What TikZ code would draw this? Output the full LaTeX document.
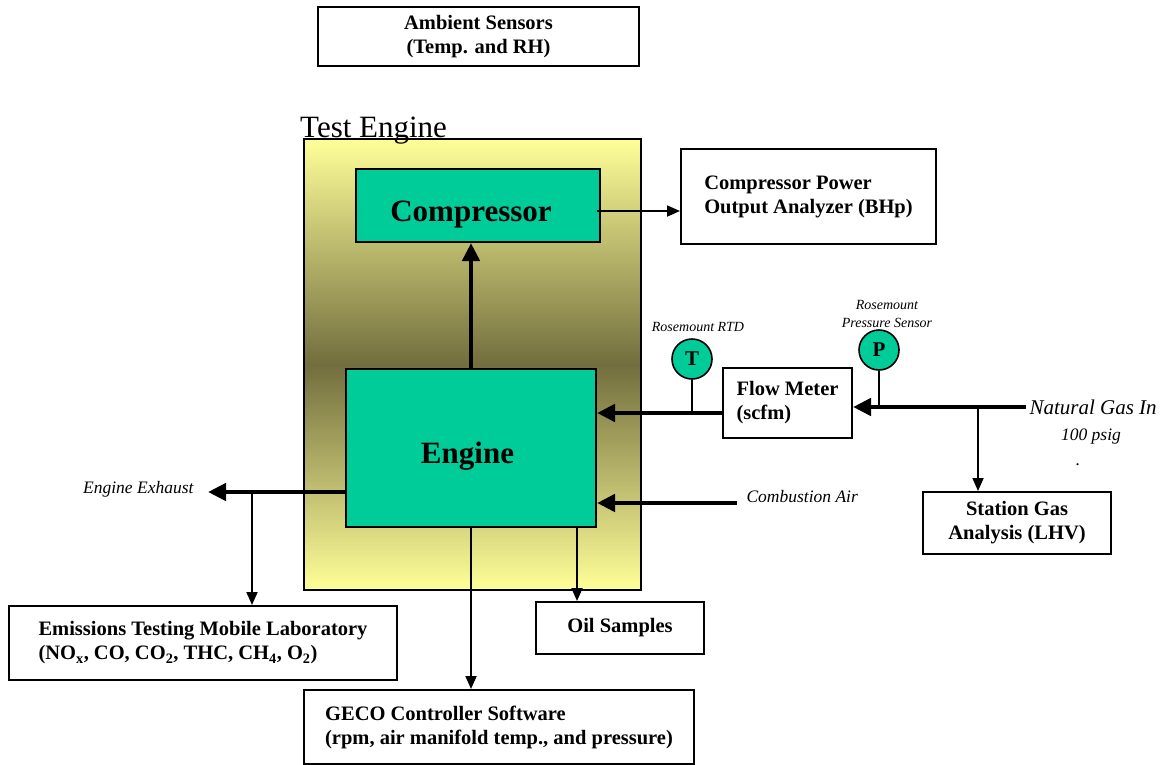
\documentclass[tikz,border=0pt]{standalone}
\usepackage{fontspec}
\setmainfont{Liberation Serif}
\usetikzlibrary{arrows.meta,positioning}
\definecolor{unitgreen}{RGB}{0,204,153}
\definecolor{paleyellow}{RGB}{255,255,153}
\definecolor{darkolive}{RGB}{114,110,62}

\begin{document}
\begin{tikzpicture}[x=1pt, y=-1pt,
  instrument/.style={rectangle, draw=black, line width=2pt, inner sep=0pt, font=\bfseries\fontsize{20.5}{24}\selectfont},
  unit/.style={rectangle, draw=black, line width=2pt, fill=unitgreen, inner sep=0pt, text height=31pt, text depth=0pt, font=\bfseries\fontsize{31}{36}\selectfont},
  gauge/.style={circle, draw=black, line width=1.6pt, fill=unitgreen, minimum size=40pt, inner sep=0pt, font=\bfseries\fontsize{21}{24}\selectfont},
  note/.style={font=\itshape\fontsize{17.5}{20}\selectfont},
  tag/.style={font=\itshape\fontsize{14}{18}\selectfont, align=center},
  stream/.style={-{Triangle[length=18pt, width=17pt]}, line width=4.5pt},
  signal/.style={-{Triangle[length=13pt, width=11pt]}, line width=1.8pt},
  tap/.style={line width=1.8pt}
]
  \useasboundingbox (0,0) rectangle (1162,764);
  % Test engine housing
  \node[rectangle, draw=black, line width=2pt, top color=paleyellow, bottom color=paleyellow, middle color=darkolive, minimum width=337pt, minimum height=451pt] (housing) at (472.5,364.5) {};
  \node[anchor=base west, inner sep=0pt, font=\fontsize{31}{34}\selectfont] (testlbl) at (300,137) {Test Engine};
  \node[unit, minimum width=244pt, minimum height=73pt] (comp) at (478,205.5) {Compressor\hspace*{14pt}};
  \node[unit, minimum width=250pt, minimum height=158pt] (engine) at (471,448) {Engine\hspace*{7pt}};
  % Measurement boxes
  \node[instrument, minimum width=321pt, minimum height=59pt, align=center] (ambient) at (478.5,36.5) {Ambient Sensors\\(Temp. and RH)};
  \node[instrument, minimum width=255pt, minimum height=95pt, align=left] (analyzer) at (808.5,196.5) {Compressor Power\\Output Analyzer (BHp)};
  \node[instrument, minimum width=129pt, minimum height=70pt, align=left] (flow) at (787.5,403) {Flow Meter\\(scfm)};
  \node[instrument, minimum width=188pt, minimum height=62pt, align=center] (station) at (1017,523) {Station Gas\\Analysis (LHV)};
  \node[instrument, minimum width=388pt, minimum height=74pt, align=left] (emlab) at (203,643) {Emissions Testing Mobile Laboratory\\(NO\textsubscript{x}, CO, CO\textsubscript{2}, THC, CH\textsubscript{4}, O\textsubscript{2})};
  \node[instrument, minimum width=168pt, minimum height=52pt] (oil) at (620,628) {Oil Samples};
  \node[instrument, minimum width=390pt, minimum height=74pt, align=left] (geco) at (499,727) {GECO Controller Software\\(rpm, air manifold temp., and pressure)};
  % Gauges on the fuel line
  \node[gauge] (rtd) at (692,359) {T};
  \node[gauge] (press) at (879,350) {P};
  \node[tag] (rtdlbl) at (698,327) {Rosemount RTD};
  \node[tag] (presslbl) at (887,314) {Rosemount\\Pressure Sensor};
  % Stream labels
  \node[anchor=west, font=\itshape\fontsize{21}{24}\selectfont] (gaslbl) at (1026,407) {Natural Gas In};
  \node[note] (psiglbl) at (1091,437) {100 psig};
  \node[note] (dotlbl) at (1078,465) {.};
  \node[note, anchor=east] (exlbl) at (197,489) {Engine Exhaust};
  \node[note, anchor=west] (airlbl) at (743,497) {Combustion Air};
  % Connection points
  \coordinate (exhaust) at (208,492);
  \coordinate (exsample) at (252,492);
  \coordinate (gastap) at (978,407);
  \coordinate (fuel) at (723,413);
  \coordinate (air) at (737,503);
  \coordinate (shaft) at (597,211);
  \coordinate (oiltap) at (577,527);
  % Gas and air streams
  \draw[stream] (gaslbl.west) -- (gaslbl.west -| flow.east);
  \draw[signal] (gastap) -- (gastap |- station.north);
  \draw[tap] (press) -- (press |- gaslbl.west);
  \draw[stream] (fuel) -- (fuel -| engine.east);
  \draw[tap] (rtd) -- (rtd |- fuel);
  \draw[stream] (air) -- (air -| engine.east);
  % Exhaust and sampling
  \draw[stream] (exhaust -| engine.west) -- (exhaust);
  \draw[signal] (exsample) -- (exsample |- emlab.north);
  \draw[signal] (engine.south) -- (engine.south |- geco.north);
  \draw[signal] (oiltap) -- (oiltap |- oil.north);
  % Drive and power output
  \draw[stream] (engine.north) -- (engine.north |- comp.south);
  \draw[signal] (shaft) -- (shaft -| analyzer.west);
\end{tikzpicture}
\end{document}
